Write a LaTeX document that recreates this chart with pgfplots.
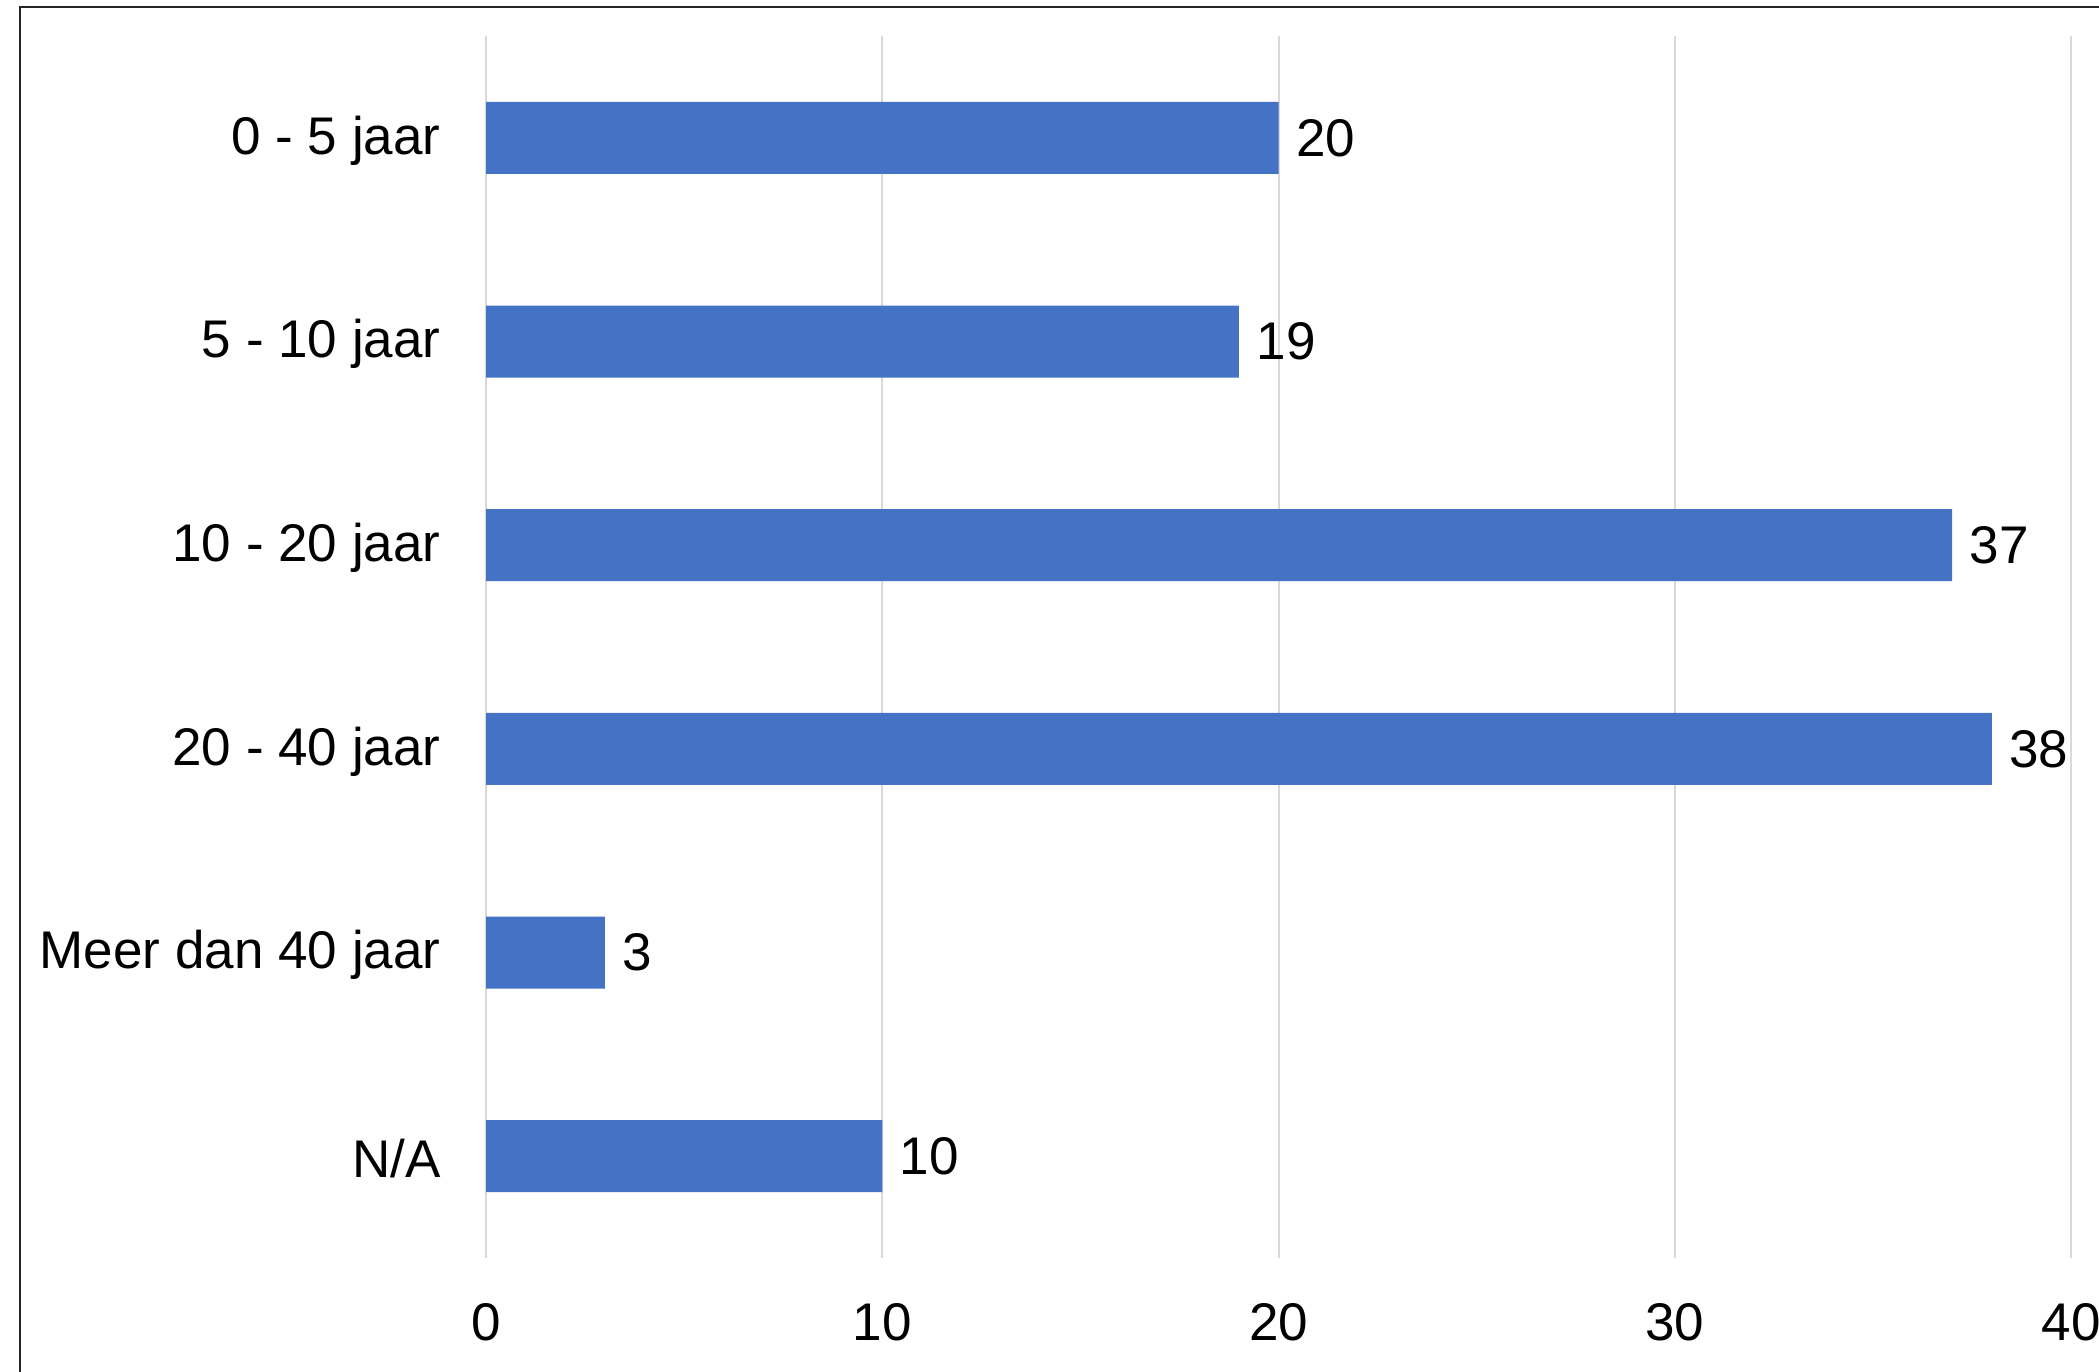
\documentclass[border=0pt]{standalone}
\usepackage{fontspec}
\setmainfont{Liberation Sans}
\usepackage{pgfplots}
\pgfplotsset{compat=1.18}
\definecolor{barblue}{HTML}{4472C4}
\definecolor{gridgray}{HTML}{D9D9D9}

\pgfplotstableread{
idx val
0 20
1 19
2 37
3 38
4 3
5 10
}\agedata

\begin{document}
\begin{tikzpicture}
% outer chart frame, cut off at right and bottom like the reference
\draw[line width=0.5pt, black!85] (4pt,-30pt) -- (4pt,272.8pt) -- (460pt,272.8pt);
\begin{axis}[
    at={(97.2pt,22.6pt)}, anchor=south west,
    scale only axis,
    width=317pt, height=244.4pt,
    xbar,
    bar width=14.4pt,
    xmin=0, xmax=40,
    xtick={0,10,20,30,40},
    ymin=-0.5, ymax=5.5,
    y dir=reverse,
    ytick={0,1,2,3,4,5},
    yticklabels={0 - 5 jaar, 5 - 10 jaar, 10 - 20 jaar, 20 - 40 jaar, Meer dan 40 jaar, N/A},
    axis line style={draw=none},
    tick style={draw=none},
    xmajorgrids,
    major grid style={gridgray, line width=0.4pt},
    /pgf/number format/assume math mode=true,
    tick label style={font=\fontsize{10.6}{12.7}\selectfont},
    xticklabel style={yshift=-5.5pt},
    yticklabel style={xshift=-1.3pt, yshift=-0.5pt},
    nodes near coords,
    nodes near coords style={font=\fontsize{10.6}{12.7}\selectfont, anchor=west, black},
    point meta=explicit symbolic,
]
\addplot[fill=barblue, draw=none] table [x=val, y=idx, meta=val] {\agedata};
\end{axis}
\pgfresetboundingbox
\path (0,0) rectangle (419.8pt,274.2pt);
\end{tikzpicture}
\end{document}
